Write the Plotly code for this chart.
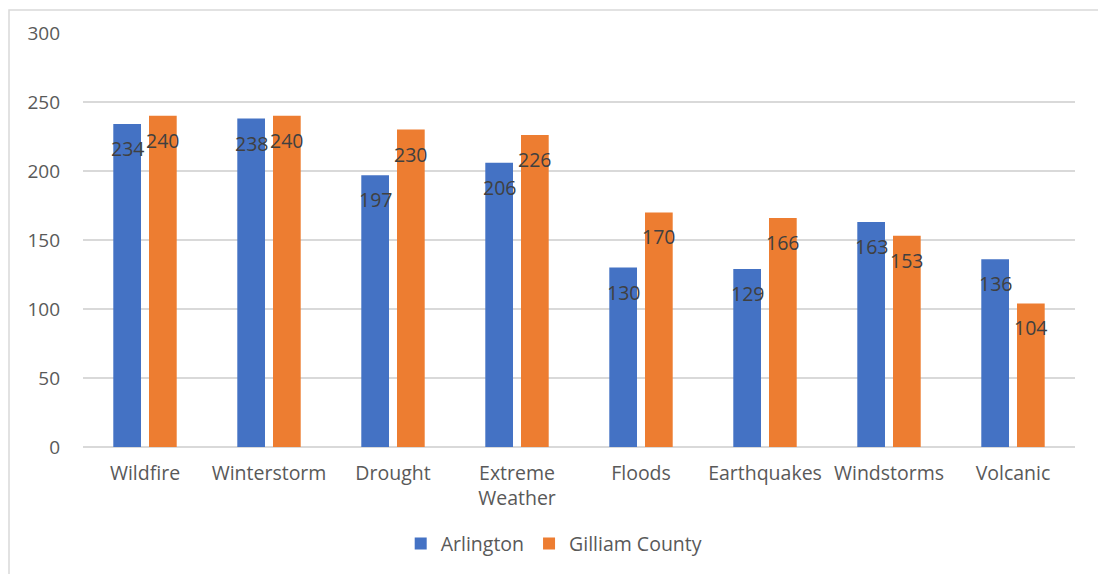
import plotly.graph_objects as go

categories = ["Wildfire", "Winterstorm", "Drought", "Extreme<br>Weather", "Floods",
              "Earthquakes", "Windstorms", "Volcanic"]
arlington = [234, 238, 197, 206, 130, 129, 163, 136]
gilliam = [240, 240, 230, 226, 170, 166, 153, 104]
series_names = ["Arlington", "Gilliam County"]
colors = ["#4472C4", "#ED7D31"]

FONT = "Open Sans"
TXT = "#595959"

fig = go.Figure()
for name, vals, col in zip(series_names, [arlington, gilliam], colors):
    fig.add_trace(go.Bar(name=name, x=categories, y=vals, marker_color=col,
                         marker_line_width=0))

shift = 17.85
for vals, xs in [(arlington, -shift), (gilliam, shift)]:
    for c, v in zip(categories, vals):
        fig.add_annotation(x=c, y=v, text=str(v), showarrow=False, xref="x", yref="y",
                           xshift=xs, yshift=-9, yanchor="top",
                           font=dict(family=FONT, size=19.5, color="#404040"))

fig.add_shape(type="rect", xref="paper", yref="paper",
              x0=-0.0746, x1=1.03, y0=-0.33, y1=1.0554,
              line=dict(color="#d9d9d9", width=1.5), layer="below")

fig.update_layout(
    width=1098, height=574,
    margin=dict(l=83, r=23, t=33, b=126),
    paper_bgcolor="white", plot_bgcolor="white",
    barmode="group", bargap=0.424, bargroupgap=0.224,
    font=dict(family=FONT, size=20, color=TXT),
    showlegend=True,
    legend=dict(orientation="h", x=0.475, xanchor="center", y=-0.231, yanchor="middle",
                font=dict(family=FONT, size=19.5, color=TXT), traceorder="normal"),
)
fig.update_yaxes(range=[0, 300], dtick=50, showgrid=True, gridcolor="#d9d9d9", gridwidth=1.5,
                 zeroline=True, zerolinecolor="#d9d9d9", zerolinewidth=1.5,
                 showline=False, ticks="", ticklabelstandoff=22,
                 tickfont=dict(family=FONT, size=19, color=TXT))
fig.update_xaxes(showgrid=False, showline=False, ticks="", ticklabelstandoff=12,
                 tickfont=dict(family=FONT, size=19.5, color=TXT))

fig.write_html("out.html")
